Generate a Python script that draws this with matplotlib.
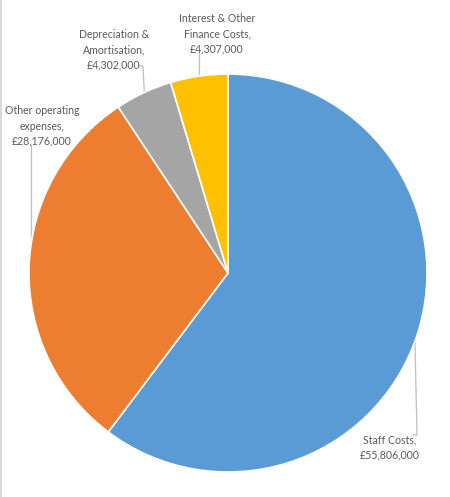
import matplotlib
matplotlib.use('Agg')
import matplotlib.pyplot as plt
import numpy as np
from matplotlib.lines import Line2D

categories = ['Staff Costs', 'Other operating\nexpenses', 'Depreciation &\nAmortisation',
              'Interest & Other\nFinance Costs']
values = [55806000, 28176000, 4302000, 4307000]
colors = ['#5B9BD5', '#ED7D31', '#A5A5A5', '#FFC000']

plt.rcParams['font.family'] = ['Lato', 'DejaVu Sans']

W, H = 450, 497
cx, cy, r = 228, 273, 199

fig = plt.figure(figsize=(W / 100, H / 100), dpi=100)
ax = fig.add_axes([(cx - r) / W, (H - cy - r) / H, 2 * r / W, 2 * r / H])
wedges, _ = ax.pie(values, colors=colors, startangle=90, counterclock=False,
                   wedgeprops=dict(edgecolor='white', linewidth=1.2))
ax.set_xlim(-1, 1)
ax.set_ylim(-1, 1)
ax.set_aspect('equal')
ax.axis('off')


def to_data(px, py):
    return (px - cx) / r, (cy - py) / r


# label centre (px) and leader path after the edge point (px)
label_pos = [(390, 447), (42, 126), (114, 50), (217, 34)]
leader_tail = [[(417, 435), (413, 435)], [(27, 145)], [(143, 66), (139, 66)], [(199, 53)]]

text_color = '#595959'
line_color = '#BFBFBF'
for w, cat, val, pos, tail in zip(wedges, categories, values, label_pos, leader_tail):
    ang = np.deg2rad((w.theta1 + w.theta2) / 2)
    ex, ey = 0.99 * np.cos(ang), 0.99 * np.sin(ang)
    pts = [(ex, ey)] + [to_data(*p) for p in tail]
    if len(tail) >= 1:
        pts[1] = (ex if len(tail) == 1 else pts[1][0], pts[1][1])
    xs, ys = zip(*pts)
    ax.plot(xs, ys, color=line_color, lw=0.9, clip_on=False, zorder=0)
    tx, ty = to_data(*pos)
    ax.text(tx, ty, f'{cat},\n£{val:,.0f}', ha='center', va='center',
            multialignment='center', fontsize=7.6, color=text_color, linespacing=1.45)

fig.add_artist(Line2D([0.002, 0.002], [0, 1], color='#D9D9D9', lw=1.5))

fig.savefig('out.png', dpi=100, facecolor='white')
